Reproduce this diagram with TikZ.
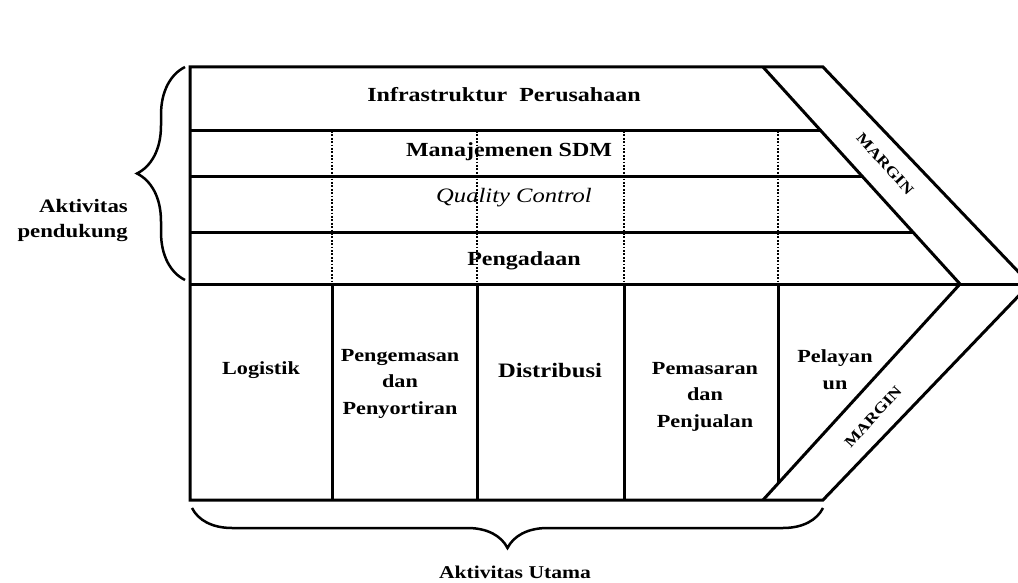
\documentclass[tikz,border=0pt]{standalone}
\usepackage{fontspec}
\setmainfont{Liberation Serif}[FakeStretch=1.2]
\usetikzlibrary{decorations.pathreplacing}

\begin{document}
\begin{tikzpicture}[x=1pt,y=-1pt,line join=miter,
  frame/.style={line width=3pt},
  dotline/.style={line width=2.6pt,dash pattern=on 1.8pt off 1.6pt},
  curly/.style={line width=2.5pt,decorate,decoration={brace,amplitude=#1}},
  band/.style={font=\bfseries\fontsize{20}{24}\selectfont,inner sep=0pt,anchor=base},
  cell/.style={font=\bfseries\fontsize{18.5}{26.5}\selectfont,align=center,inner sep=0pt,anchor=base},
  marginlbl/.style={font=\bfseries\fontsize{15}{18}\selectfont,inner sep=0pt},
  side/.style={font=\bfseries\fontsize{19}{25}\selectfont,align=right,inner sep=0pt,anchor=base east}]

\useasboundingbox (0,0) rectangle (1018,583);

% corner points of the value-chain outline
\coordinate (tl)  at (190,67);
\coordinate (bl)  at (190,500);
\coordinate (ml)  at (190,284);
\coordinate (mr)  at (1018,284);
\coordinate (it)  at (763,67);
\coordinate (ib)  at (763,500);
\coordinate (ot)  at (823,67);
\coordinate (ob)  at (823,500);
\coordinate (tip) at (960,284);
\coordinate (otip) at (1030,284);

% row separators of the support activities
\coordinate (r1l) at (190,131); \coordinate (r1r) at (821.1,131);
\coordinate (r2l) at (190,177); \coordinate (r2r) at (862.9,177);
\coordinate (r3l) at (190,232); \coordinate (r3r) at (912.8,232);

\begin{scope}
\clip (0,0) rectangle (1018,583);
% outline
\draw[frame] (tl) -- (ot) -- (otip) -- (ob) -- (bl) -- cycle;
\draw[frame] (it) -- (tip) -- (ib);
\draw[frame] (ml) -- (mr);
\draw[frame] (r1l) -- (r1r);
\draw[frame] (r2l) -- (r2r);
\draw[frame] (r3l) -- (r3r);

% column separators of the primary activities
\foreach \n/\x in {a/332,b/477,c/624}{
  \coordinate (\n top) at (\x,284);
  \coordinate (\n bot) at (\x,500);
  \coordinate (\n up)  at (\x,131);
  \draw[frame] (\n top) -- (\n bot);
  \draw[dotline] (\n up) -- (\n top);
}
\coordinate (dtop) at (778,284);
\coordinate (dbot) at (778,483.6);
\coordinate (dup)  at (778,131);
\draw[frame] (dtop) -- (dbot);
\draw[dotline] (dup) -- (dtop);
\end{scope}

% support activities
\node[band] (infra) at (504,102) {Infrastruktur~~Perusahaan};
\node[band] (sdm)   at (509,157) {Manajemenen SDM};
\node[band,font=\mdseries\itshape\fontsize{20.5}{24}\selectfont] (qc) at (514,203) {Quality Control};
\node[band] (pgd)   at (524,265) {Pengadaan};

% primary activities (anchored on the baseline of the last line)
\node[cell] (log)  at (261,374) {Logistik};
\node[cell] (pkg)  at (400,414) {Pengemasan\\dan\\Penyortiran};
\node[cell,font=\bfseries\fontsize{20.5}{24}\selectfont] (dist) at (550,377) {Distribusi};
\node[cell] (mkt)  at (705,427) {Pemasaran\\dan\\Penjualan};
\node[cell] (svc)  at (835,389) {Pelayan\\un};

% margin labels
\node[marginlbl,rotate=-47.8] (mg1) at (885,164) {MARGIN};
\node[marginlbl,rotate=47.8]  (mg2) at (873,417) {MARGIN};

% braces and their captions
\coordinate (lb1) at (185,280);
\coordinate (lb2) at (185,67);
\draw[curly=48] (lb1) -- (lb2);
\node[side] (supp) at (128,237) {Aktivitas\\pendukung};

\coordinate (bb1) at (823,508);
\coordinate (bb2) at (192,508);
\draw[curly=40] (bb1) -- (bb2);
\node[band,font=\bfseries\fontsize{18}{22}\selectfont] (prim) at (515,578) {Aktivitas Utama};

\end{tikzpicture}
\end{document}
